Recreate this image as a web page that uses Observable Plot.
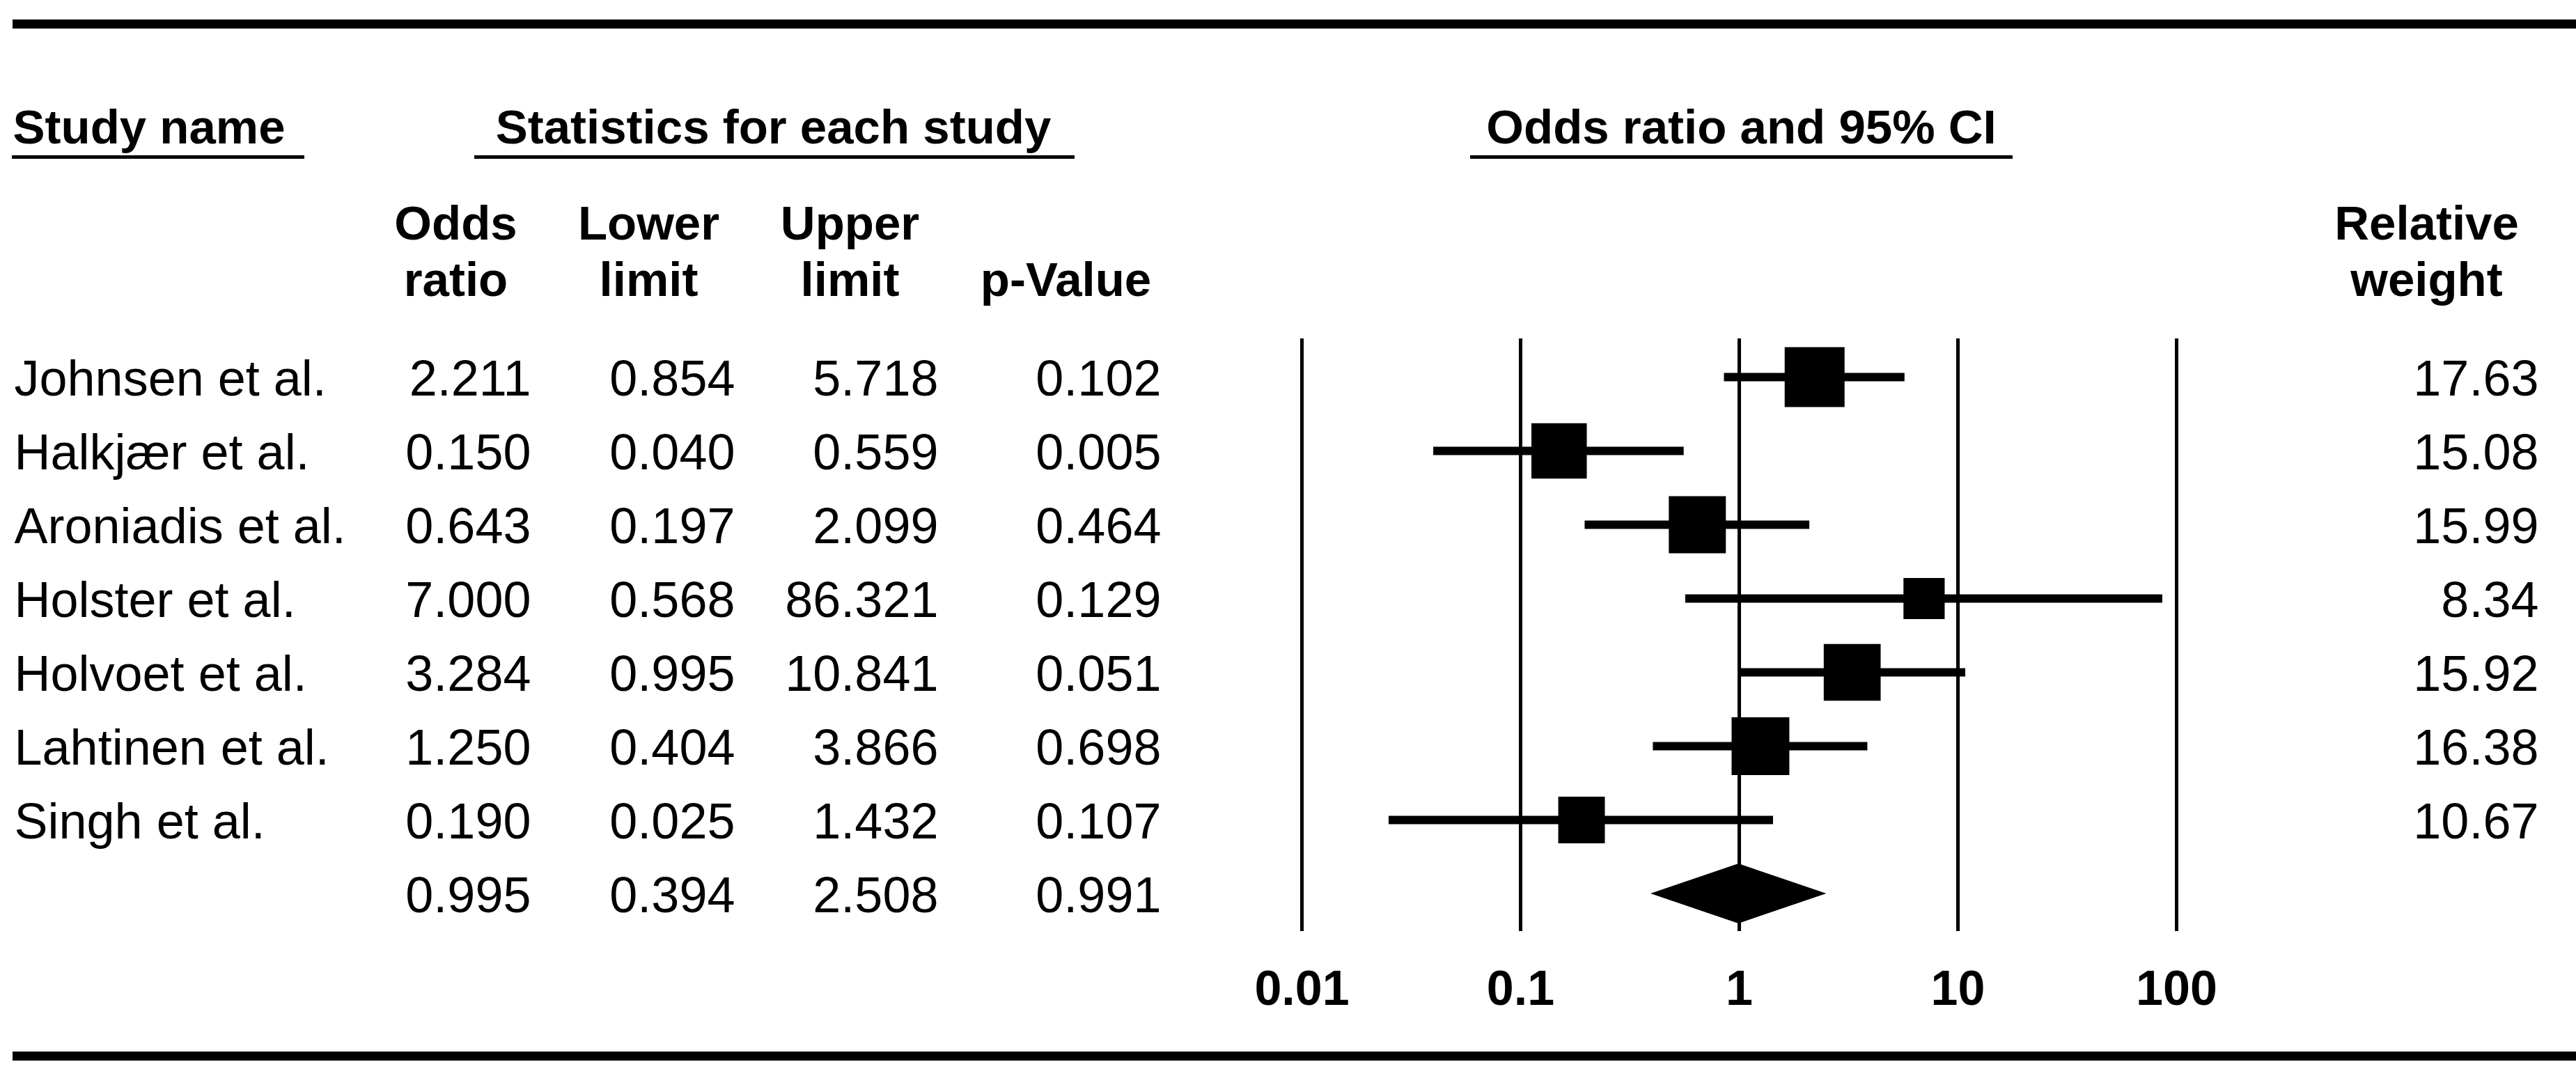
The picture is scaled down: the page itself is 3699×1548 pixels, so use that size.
<!DOCTYPE html>
<html>
<head>
<meta charset="utf-8">
<script src="https://cdn.jsdelivr.net/npm/d3@7"></script>
<script src="https://cdn.jsdelivr.net/npm/@observablehq/plot@0.6"></script>
<style>
  html, body { margin: 0; padding: 0; background: #fff; }
  #wrap { position: relative; width: 3699px; height: 1548px; overflow: hidden; background: #fff; }
  #wrap svg { position: absolute; left: 0; top: 0; }
  .rule { position: absolute; background: #000; }
</style>
</head>
<body>
<div id="wrap"></div>
<script>
// ---- Data ----
const studies = ["Johnsen et al.", "Halkjær et al.", "Aroniadis et al.", "Holster et al.", "Holvoet et al.", "Lahtinen et al.", "Singh et al."];
const oddsRatio  = [2.211, 0.150, 0.643, 7.000, 3.284, 1.250, 0.190];
const lowerLimit = [0.854, 0.040, 0.197, 0.568, 0.995, 0.404, 0.025];
const upperLimit = [5.718, 0.559, 2.099, 86.321, 10.841, 3.866, 1.432];
const pValue     = [0.102, 0.005, 0.464, 0.129, 0.051, 0.698, 0.107];
const relWeight  = [17.63, 15.08, 15.99, 8.34, 15.92, 16.38, 10.67];
const summaryOR = 0.995, summaryLower = 0.394, summaryUpper = 2.508, summaryP = 0.991;
const tickValues = [0.01, 0.1, 1, 10, 100];
const tickLabels = ["0.01", "0.1", "1", "10", "100"];
const groupHeaders = ["Study name", "Statistics for each study", "Odds ratio and 95% CI"];
const columnHeaders = ["Odds\nratio", "Lower\nlimit", "Upper\nlimit", "p-Value", "Relative\nweight"];

// ---- Build tables ----
const W = 3699, H = 1548;
const nRows = studies.length + 1;
const table = studies.map((s, i) => ({
  i, name: s, or: oddsRatio[i], lo: lowerLimit[i], hi: upperLimit[i], p: pValue[i], w: relWeight[i]
}));
const summary = {i: studies.length, name: "", or: summaryOR, lo: summaryLower, hi: summaryUpper, p: summaryP, w: null};
const allRows = [...table, summary];
const diamondHalf = 0.405; // half height of the diamond in row units
const diamond = [
  {y: summary.i - diamondHalf, x1: summary.or, x2: summary.or},
  {y: summary.i, x1: summary.lo, x2: summary.hi},
  {y: summary.i + diamondHalf, x1: summary.or, x2: summary.or}
];

const fmt3 = d3.format(".3f"), fmt2 = d3.format(".2f");
const FONT = "'Liberation Sans', Arial, Helvetica, sans-serif";
const bodySize = 72, headSize = 69;

// layout (pixel positions of table columns and headers)
const groupLayout = [
  {x: 18, anchor: "start"},
  {x: 1110, anchor: "middle"},
  {x: 2500, anchor: "middle"}
];
const colLayout = [654, 931, 1220, 1530, 3484];

const bodyText = (accessor, dx, anchor, data = allRows) =>
  Plot.text(data, {
    y: "i", text: accessor, frameAnchor: "left", dx, dy: 3,
    textAnchor: anchor, fontSize: bodySize, fontFamily: FONT, fill: "black"
  });

const marks = [
  // vertical reference lines
  Plot.ruleX(tickValues, {x: d => d, insetTop: 486, insetBottom: 211, stroke: "black", strokeWidth: 5}),
  // confidence intervals
  Plot.ruleY(table, {y: "i", x1: "lo", x2: "hi", stroke: "black", strokeWidth: 12}),
  // study squares (area proportional to weight)
  Plot.dot(table, {x: "or", y: "i", r: "w", symbol: "square", fill: "black", stroke: null}),
  // summary diamond
  Plot.areaX(diamond, {y: "y", x1: "x1", x2: "x2", fill: "black"}),
  // tick labels
  Plot.text(tickValues, {
    x: d => d, text: (d, i) => tickLabels[i], frameAnchor: "top", dy: 1393, lineAnchor: "top",
    fontSize: 70, fontWeight: "bold", fontFamily: FONT, fill: "black"
  }),
  // table body
  bodyText(d => d.name, 20, "start"),
  bodyText(d => fmt3(d.or), 762, "end"),
  bodyText(d => fmt3(d.lo), 1055, "end"),
  bodyText(d => fmt3(d.hi), 1347, "end"),
  bodyText(d => fmt3(d.p), 1667, "end"),
  bodyText(d => fmt2(d.w), 3645, "end", table),
  // group headers
  ...groupHeaders.map((h, k) => Plot.text([h], {
    text: d => d, frameAnchor: "top-left", dx: groupLayout[k].x, dy: 205, lineAnchor: "bottom",
    textAnchor: groupLayout[k].anchor, fontSize: headSize, fontWeight: "bold", fontFamily: FONT, fill: "black"
  })),
  // column headers
  ...columnHeaders.map((h, k) => Plot.text([h], {
    text: d => d, frameAnchor: "top-left", dx: colLayout[k], dy: 424, lineAnchor: "bottom",
    lineHeight: 81 / headSize, textAnchor: "middle", fontSize: headSize, fontWeight: "bold",
    fontFamily: FONT, fill: "black"
  }))
];

const chart = Plot.plot({
  width: W, height: H, margin: 0,
  style: {fontFamily: FONT, background: "white", color: "black", overflow: "visible"},
  x: {type: "log", domain: [0.01, 100], range: [1869, 3125], axis: null},
  y: {domain: [0, nRows - 1], range: [541, 1283], axis: null},
  r: {type: "sqrt", domain: [0, d3.max(relWeight)], range: [0, 86 / Math.sqrt(Math.PI)]},
  marks
});

const wrap = document.getElementById("wrap");
wrap.appendChild(chart);

// decorative rules (thick frame lines and header underlines)
const rules = [
  {left: 18, top: 28, width: W - 18, height: 13},
  {left: 18, top: 1510, width: W - 18, height: 13},
  {left: 17, top: 223, width: 420, height: 5},
  {left: 681, top: 223, width: 862, height: 5},
  {left: 2111, top: 223, width: 779, height: 5}
];
for (const r of rules) {
  const d = document.createElement("div");
  d.className = "rule";
  Object.assign(d.style, {left: r.left + "px", top: r.top + "px", width: r.width + "px", height: r.height + "px"});
  wrap.appendChild(d);
}
</script>
</body>
</html>
